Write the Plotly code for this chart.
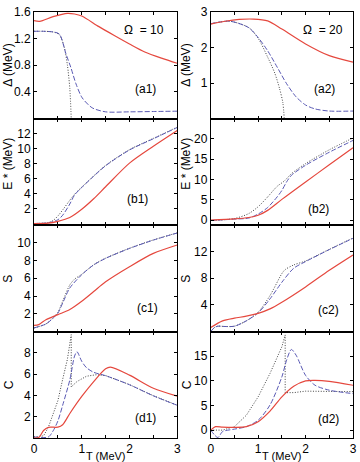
import plotly.graph_objects as go

# ---------------- data ----------------
# (a1) pairing gap, Omega = 10
a1_red_T = [0, 0.12, 0.4, 0.7, 0.85, 1.0, 1.36, 1.7, 2.0, 2.32, 2.7, 3.0]
a1_red_D = [1.47, 1.46, 1.53, 1.58, 1.57, 1.54, 1.38, 1.24, 1.12, 1.0, 0.9, 0.83]
a1_blue_T = [0, 0.2, 0.4, 0.53, 0.67, 0.77, 0.88, 1.01, 1.22, 1.5, 2.0, 2.5, 3.0]
a1_blue_D = [1.31, 1.31, 1.30, 1.27, 0.97, 0.77, 0.52, 0.31, 0.16, 0.10, 0.10, 0.105, 0.11]
a1_dot_T = [0, 0.2, 0.4, 0.53, 0.63, 0.70, 0.75, 0.78]
a1_dot_D = [1.31, 1.31, 1.30, 1.26, 1.08, 0.80, 0.45, 0.0]

# (a2) pairing gap, Omega = 20
a2_red_T = [0, 0.3, 0.6, 0.9, 1.2, 1.5, 2.0, 2.5, 3.0]
a2_red_D = [2.66, 2.74, 2.79, 2.8, 2.75, 2.52, 2.1, 1.77, 1.59]
a2_blue_T = [0, 0.4, 0.8, 1.0, 1.2, 1.4, 1.6, 1.8, 2.0, 2.2, 2.5, 3.0]
a2_blue_D = [2.67, 2.74, 2.56, 2.28, 1.91, 1.45, 0.98, 0.61, 0.38, 0.27, 0.21, 0.21]
a2_dot_T = [0, 0.4, 0.8, 1.0, 1.2, 1.35, 1.45, 1.52, 1.55]
a2_dot_D = [2.67, 2.74, 2.56, 2.26, 1.73, 1.28, 0.85, 0.45, 0.0]

# (b1) excitation energy, Omega = 10
b1_red_T = [0, 0.3, 0.5, 0.75, 1.0, 1.25, 1.5, 2.0, 2.5, 3.0]
b1_red_E = [0.0, 0.05, 0.29, 0.8, 1.9, 3.3, 4.9, 8.05, 10.3, 12.4]
b1_blue_T = [0, 0.3, 0.5, 0.6, 0.75, 0.85, 1.0, 1.25, 1.5, 2.0, 2.5, 3.0]
b1_blue_E = [0.0, 0.1, 0.5, 1.1, 2.6, 3.8, 4.8, 6.3, 7.7, 9.8, 11.3, 12.8]
b1_dot_T = [0, 0.3, 0.4, 0.5, 0.6, 0.75, 0.85, 1.0, 1.25, 1.5, 2.0, 2.5, 3.0]
b1_dot_E = [0.0, 0.12, 0.4, 1.0, 1.8, 3.1, 3.9, 4.85, 6.35, 7.75, 9.85, 11.35, 12.85]

# (b2) excitation energy, Omega = 20
b2_red_T = [0, 0.5, 0.8, 1.0, 1.2, 1.5, 2.0, 2.5, 3.0]
b2_red_E = [0.0, 0.3, 0.65, 1.2, 2.4, 5.1, 9.4, 13.6, 17.8]
b2_blue_T = [0, 0.5, 0.8, 1.0, 1.2, 1.4, 1.5, 1.6, 1.7, 2.0, 2.5, 3.0]
b2_blue_E = [-0.1, 0.25, 0.5, 1.5, 3.1, 5.7, 7.3, 9.4, 11.0, 13.5, 16.7, 19.6]
b2_dot_T = [0, 0.5, 0.8, 1.0, 1.2, 1.4, 1.55, 1.7, 2.0, 2.5, 3.0]
b2_dot_E = [-0.1, 0.4, 1.6, 3.3, 5.7, 8.3, 9.6, 11.4, 13.9, 17.3, 20.2]

# (c1) entropy, Omega = 10
c1_red_T = [0, 0.1, 0.25, 0.5, 0.75, 1.0, 1.25, 1.5, 2.0, 2.5, 3.0]
c1_red_S = [0.7, 0.78, 1.33, 1.9, 2.47, 3.4, 4.5, 5.6, 7.3, 8.8, 9.75]
c1_blue_T = [0, 0.25, 0.4, 0.5, 0.6, 0.75, 1.0, 1.25, 1.5, 2.0, 2.5, 3.0]
c1_blue_S = [0.4, 0.85, 1.5, 2.07, 3.2, 4.9, 6.4, 7.5, 8.24, 9.36, 10.3, 11.1]
c1_dot_T = [0, 0.25, 0.4, 0.5, 0.6, 0.75, 0.85, 1.0, 1.25, 1.5, 2.0, 2.5, 3.0]
c1_dot_S = [0.4, 0.85, 1.55, 2.15, 3.4, 5.25, 5.9, 6.45, 7.52, 8.26, 9.38, 10.32, 11.12]

# (c2) entropy, Omega = 20
c2_red_T = [0, 0.25, 0.5, 0.75, 1.0, 1.25, 1.5, 2.0, 2.5, 3.0]
c2_red_S = [0.6, 1.6, 2.0, 2.3, 2.73, 3.4, 4.4, 6.7, 9.2, 11.5]
c2_blue_T = [0, 0.08, 0.15, 0.3, 0.5, 0.75, 1.0, 1.25, 1.5, 1.75, 2.0, 2.5, 3.0]
c2_blue_S = [0.0, 0.6, 0.8, 0.75, 0.8, 1.6, 2.8, 4.9, 7.4, 9.5, 10.5, 12.3, 14.0]
c2_dot_T = [0, 0.08, 0.15, 0.3, 0.5, 0.75, 1.0, 1.25, 1.5, 1.57, 1.75, 2.0, 2.5, 3.0]
c2_dot_S = [0.0, 0.6, 0.8, 0.75, 0.8, 1.6, 2.9, 5.4, 8.7, 9.3, 10.0, 10.6, 12.35, 14.05]

# (d1) heat capacity, Omega = 10
d1_red_T = [0, 0.1, 0.2, 0.3, 0.5, 0.6, 0.75, 1.0, 1.25, 1.5, 1.6, 2.0, 2.5, 3.0]
d1_red_C = [0.0, 0.05, 0.7, 1.0, 1.02, 1.25, 2.3, 3.9, 5.3, 6.5, 6.65, 5.9, 4.67, 3.93]
d1_blue_T = [0, 0.3, 0.4, 0.5, 0.6, 0.75, 0.85, 0.9, 1.0, 1.1, 1.25, 1.5, 2.0, 2.5, 3.0]
d1_blue_C = [0.1, 0.1, 0.67, 1.6, 3.07, 5.45, 7.7, 8.1, 7.2, 6.6, 6.17, 5.85, 5.0, 3.96, 3.07]
d1_dot_T = [0, 0.2, 0.3, 0.4, 0.5, 0.6, 0.7, 0.78, 0.78, 0.9, 1.1, 1.3, 1.5, 2.0, 2.5, 3.0]
d1_dot_C = [0.1, 0.2, 1.0, 2.2, 3.5, 5.5, 7.4, 9.7, 4.8, 5.3, 5.8, 5.94, 5.86, 5.01, 3.97, 3.08]

# (d2) heat capacity, Omega = 20
d2_red_T = [0, 0.1, 0.25, 0.5, 0.75, 1.0, 1.25, 1.5, 1.75, 2.0, 2.2, 2.5, 3.0]
d2_red_C = [0.0, 0.7, 0.6, 0.55, 0.7, 1.7, 3.85, 6.75, 8.9, 10.0, 10.1, 9.9, 9.1]
d2_blue_T = [0, 0.15, 0.25, 0.5, 0.75, 1.0, 1.25, 1.5, 1.6, 1.7, 1.8, 2.0, 2.2, 2.5, 3.0]
d2_blue_C = [0.0, -1.5, -0.3, 0.2, 0.7, 2.0, 5.1, 10.8, 14.2, 16.35, 15.2, 11.1, 9.1, 8.1, 7.4]
d2_dot_T = [0, 0.25, 0.5, 0.75, 1.0, 1.25, 1.5, 1.57, 1.57, 1.75, 2.0, 2.5, 3.0]
d2_dot_C = [0.0, 0.0, 0.7, 3.0, 6.75, 11.5, 16.9, 19.3, 7.6, 7.6, 7.9, 7.9, 7.8]

# ---------------- figure ----------------
RED = "#e5483e"
BLUE = "#5a5ab4"
DOT = "#444444"
FONT = "Liberation Sans, Arial, sans-serif"

fig = go.Figure()

panels = [
    (1, (a1_red_T, a1_red_D), (a1_blue_T, a1_blue_D), (a1_dot_T, a1_dot_D)),
    (2, (a2_red_T, a2_red_D), (a2_blue_T, a2_blue_D), (a2_dot_T, a2_dot_D)),
    (3, (b1_red_T, b1_red_E), (b1_blue_T, b1_blue_E), (b1_dot_T, b1_dot_E)),
    (4, (b2_red_T, b2_red_E), (b2_blue_T, b2_blue_E), (b2_dot_T, b2_dot_E)),
    (5, (c1_red_T, c1_red_S), (c1_blue_T, c1_blue_S), (c1_dot_T, c1_dot_S)),
    (6, (c2_red_T, c2_red_S), (c2_blue_T, c2_blue_S), (c2_dot_T, c2_dot_S)),
    (7, (d1_red_T, d1_red_C), (d1_blue_T, d1_blue_C), (d1_dot_T, d1_dot_C)),
    (8, (d2_red_T, d2_red_C), (d2_blue_T, d2_blue_C), (d2_dot_T, d2_dot_C)),
]

for idx, red, blue, dot in panels:
    xa = "x" if idx == 1 else f"x{idx}"
    ya = "y" if idx == 1 else f"y{idx}"
    kink = idx in (7, 8)
    fig.add_trace(go.Scatter(x=dot[0], y=dot[1], mode="lines", xaxis=xa, yaxis=ya,
                             line=dict(color=DOT, width=1, dash="1px,1.6px",
                                       shape="linear" if kink else "spline", smoothing=0.8),
                             showlegend=False, hoverinfo="skip"))
    fig.add_trace(go.Scatter(x=blue[0], y=blue[1], mode="lines", xaxis=xa, yaxis=ya,
                             line=dict(color=BLUE, width=1, dash="5px,2px", shape="spline", smoothing=0.8),
                             showlegend=False, hoverinfo="skip"))
    fig.add_trace(go.Scatter(x=red[0], y=red[1], mode="lines", xaxis=xa, yaxis=ya,
                             line=dict(color=RED, width=1.2, shape="spline", smoothing=0.8),
                             showlegend=False, hoverinfo="skip"))

xdom_left = [0.0, 0.449]
xdom_right = [0.554, 1.0]
row_dom = [[0.75, 1.0], [0.5, 0.75], [0.25, 0.5], [0.0, 0.25]]

y_ranges = [[0, 1.6], [0, 3], [-0.2, 14], [-1.2, 25], [0, 12], [0, 16], [0, 10], [-1.6, 20]]
y_ticks = [[0.4, 0.8, 1.2, 1.6], [1, 2, 3], [2, 4, 6, 8, 10, 12], [0, 5, 10, 15, 20],
           [2, 4, 6, 8, 10], [4, 8, 12], [2, 4, 6, 8], [0, 5, 10, 15]]
x_tickvals = [0, 0.5, 1, 1.5, 2, 2.5, 3]
x_ticktext = ["0", "", "1", "", "2", "", "3"]

axis_common = dict(showline=True, linecolor="black", linewidth=1, mirror="ticks",
                   ticks="inside", ticklen=3, tickcolor="black", showgrid=False,
                   zeroline=False, tickfont=dict(family=FONT, size=12, color="black"))

for idx in range(1, 9):
    row = (idx - 1) // 2
    col = (idx - 1) % 2
    xname = "xaxis" if idx == 1 else f"xaxis{idx}"
    yname = "yaxis" if idx == 1 else f"yaxis{idx}"
    yanchor = "y" if idx == 1 else f"y{idx}"
    xanchor = "x" if idx == 1 else f"x{idx}"
    fig.layout[xname] = dict(domain=xdom_left if col == 0 else xdom_right,
                             anchor=yanchor, range=[0, 3], tickvals=x_tickvals,
                             ticktext=x_ticktext, showticklabels=(row == 3),
                             **axis_common)
    fig.layout[yname] = dict(domain=row_dom[row], anchor=xanchor,
                             range=y_ranges[idx - 1], tickvals=y_ticks[idx - 1],
                             **axis_common)

ann = []
def txt(text, x, y, xref, yref, size=11, angle=0, xanchor="center", yanchor="middle"):
    ann.append(dict(text=text, x=x, y=y, xref=xref, yref=yref, showarrow=False,
                    textangle=angle, xanchor=xanchor, yanchor=yanchor,
                    font=dict(family=FONT, size=size, color="black")))

labels = [(1, "(a1)", 0.78, 0.28), (2, "(a2)", 0.80, 0.28),
          (3, "(b1)", 0.72, 0.24), (4, "(b2)", 0.76, 0.15),
          (5, "(c1)", 0.79, 0.22), (6, "(c2)", 0.83, 0.20),
          (7, "(d1)", 0.78, 0.19), (8, "(d2)", 0.83, 0.18)]
for idx, t, fx, fy in labels:
    xr = "x domain" if idx == 1 else f"x{idx} domain"
    yr = "y domain" if idx == 1 else f"y{idx} domain"
    txt(t, fx, fy, xr, yr, size=12)

txt("Ω  = 10", 0.77, 0.83, "x domain", "y domain", size=12)
txt("Ω  = 20", 0.79, 0.83, "x2 domain", "y2 domain", size=12)

ytitles = [("Δ (MeV)", 0.875), ("E * (MeV)", 0.645), ("S", 0.375), ("C", 0.125)]
for t, py in ytitles:
    txt(t, -0.08, py, "paper", "paper", size=12, angle=-90)
    txt(t, 0.478, py, "paper", "paper", size=12, angle=-90)
txt("T (MeV)", 0.225, -0.06, "paper", "paper", size=11, yanchor="bottom")
txt("T (MeV)", 0.777, -0.06, "paper", "paper", size=11, yanchor="bottom")

fig.update_layout(width=360, height=462, margin=dict(l=34, r=3, t=12, b=24),
                  paper_bgcolor="white", plot_bgcolor="white",
                  annotations=ann, showlegend=False,
                  font=dict(family=FONT, size=11, color="black"))

fig.write_html("out.html")
